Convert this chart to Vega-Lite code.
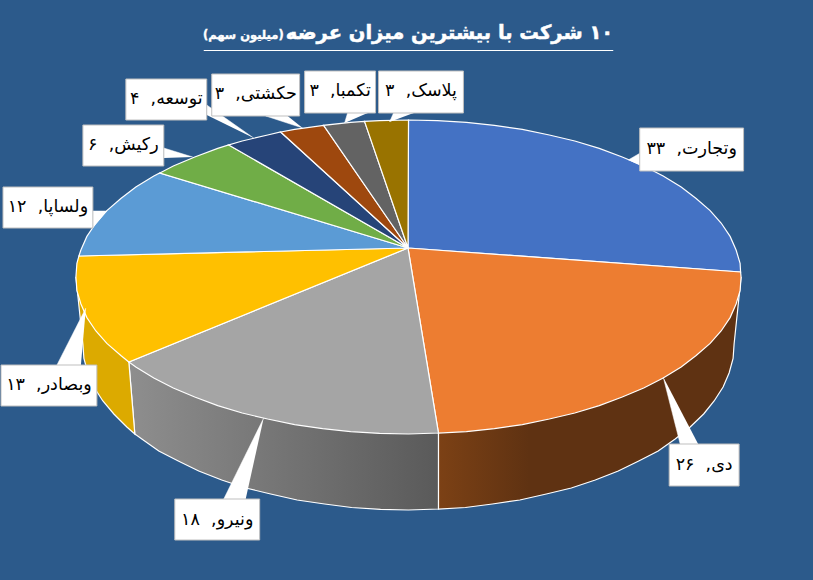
{
"$schema":"https://vega.github.io/schema/vega-lite/v6.json",
"width":813,"height":580,"padding":0,
"autosize":{"type":"fit","contains":"padding"},
"background":"#2c5a8b",
"view":{"stroke":null},
"datasets":{
"wallOrange":[{"i":1,"x":741,"y":277},{"i":2,"x":734,"y":344},{"i":3,"x":733,"y":358.5},{"i":4,"x":729,"y":373},{"i":5,"x":723,"y":387},{"i":6,"x":714,"y":401},{"i":7,"x":703.5,"y":414},{"i":8,"x":690,"y":427},{"i":9,"x":675,"y":439},{"i":10,"x":658,"y":451},{"i":11,"x":638.5,"y":461},{"i":12,"x":618,"y":471},{"i":13,"x":595,"y":480},{"i":14,"x":571,"y":488},{"i":15,"x":546,"y":494},{"i":16,"x":519.5,"y":500},{"i":17,"x":492,"y":504},{"i":18,"x":465,"y":507.5},{"i":19,"x":438,"y":509},{"i":20,"x":438,"y":433},{"i":21,"x":741,"y":277}],
"wallGray":[{"i":1,"x":438,"y":433},{"i":2,"x":438,"y":509},{"i":3,"x":408,"y":510},{"i":4,"x":380,"y":509.4},{"i":5,"x":351,"y":507.5},{"i":6,"x":324,"y":504},{"i":7,"x":296.5,"y":500},{"i":8,"x":270,"y":494},{"i":9,"x":245,"y":488},{"i":10,"x":221,"y":480},{"i":11,"x":198,"y":471},{"i":12,"x":177.5,"y":461},{"i":13,"x":158,"y":451},{"i":14,"x":141,"y":439},{"i":15,"x":134,"y":434},{"i":16,"x":128,"y":362},{"i":17,"x":438,"y":433}],
"wallYellow":[{"i":1,"x":128,"y":362},{"i":2,"x":134,"y":434},{"i":3,"x":126,"y":427},{"i":4,"x":113,"y":414},{"i":5,"x":102,"y":401},{"i":6,"x":93,"y":387},{"i":7,"x":87,"y":373},{"i":8,"x":83,"y":358.5},{"i":9,"x":82,"y":344},{"i":10,"x":75,"y":277},{"i":11,"x":128,"y":362}],
"surface":[
{"company":"وتجارت","i":0,"x":407.5,"y":248},{"company":"وتجارت","i":1,"x":408,"y":120},{"company":"وتجارت","i":2,"x":437,"y":120.6},{"company":"وتجارت","i":3,"x":466,"y":122.4},{"company":"وتجارت","i":4,"x":494,"y":125.3},{"company":"وتجارت","i":5,"x":522,"y":129.4},{"company":"وتجارت","i":6,"x":549,"y":135},{"company":"وتجارت","i":7,"x":574.5,"y":141},{"company":"وتجارت","i":8,"x":599,"y":148.4},{"company":"وتجارت","i":9,"x":622,"y":157},{"company":"وتجارت","i":10,"x":643.5,"y":166},{"company":"وتجارت","i":11,"x":663,"y":176},{"company":"وتجارت","i":12,"x":681,"y":187},{"company":"وتجارت","i":13,"x":696,"y":198.5},{"company":"وتجارت","i":14,"x":710,"y":210.6},{"company":"وتجارت","i":15,"x":721,"y":223},{"company":"وتجارت","i":16,"x":730,"y":236.4},{"company":"وتجارت","i":17,"x":736,"y":250},{"company":"وتجارت","i":18,"x":740,"y":263.3},{"company":"وتجارت","i":19,"x":740.5,"y":272},{"company":"وتجارت","i":20,"x":407.5,"y":248},
{"company":"دی","i":0,"x":407.5,"y":248},{"company":"دی","i":1,"x":740.5,"y":272},{"company":"دی","i":2,"x":741,"y":277},{"company":"دی","i":3,"x":740,"y":290.7},{"company":"دی","i":4,"x":736,"y":304},{"company":"دی","i":5,"x":730,"y":317.6},{"company":"دی","i":6,"x":721,"y":331},{"company":"دی","i":7,"x":710,"y":343.4},{"company":"دی","i":8,"x":696,"y":355.5},{"company":"دی","i":9,"x":681,"y":367},{"company":"دی","i":10,"x":663,"y":378},{"company":"دی","i":11,"x":643.5,"y":388},{"company":"دی","i":12,"x":622,"y":397},{"company":"دی","i":13,"x":599,"y":405.6},{"company":"دی","i":14,"x":574.5,"y":413},{"company":"دی","i":15,"x":549,"y":419},{"company":"دی","i":16,"x":522,"y":424.6},{"company":"دی","i":17,"x":494,"y":428.7},{"company":"دی","i":18,"x":466,"y":431.6},{"company":"دی","i":19,"x":438,"y":433},{"company":"دی","i":20,"x":407.5,"y":248},
{"company":"ونیرو","i":0,"x":407.5,"y":248},{"company":"ونیرو","i":1,"x":438,"y":433},{"company":"ونیرو","i":2,"x":408,"y":434},{"company":"ونیرو","i":3,"x":379,"y":433.4},{"company":"ونیرو","i":4,"x":350,"y":431.6},{"company":"ونیرو","i":5,"x":322,"y":428.7},{"company":"ونیرو","i":6,"x":294,"y":424.6},{"company":"ونیرو","i":7,"x":267,"y":419},{"company":"ونیرو","i":8,"x":241.5,"y":413},{"company":"ونیرو","i":9,"x":217,"y":405.6},{"company":"ونیرو","i":10,"x":194,"y":397},{"company":"ونیرو","i":11,"x":172.5,"y":388},{"company":"ونیرو","i":12,"x":153,"y":378},{"company":"ونیرو","i":13,"x":135,"y":367},{"company":"ونیرو","i":14,"x":128,"y":362},{"company":"ونیرو","i":15,"x":407.5,"y":248},
{"company":"وبصادر","i":0,"x":407.5,"y":248},{"company":"وبصادر","i":1,"x":128,"y":362},{"company":"وبصادر","i":2,"x":120,"y":355.5},{"company":"وبصادر","i":3,"x":106,"y":343.4},{"company":"وبصادر","i":4,"x":95,"y":331},{"company":"وبصادر","i":5,"x":86,"y":317.6},{"company":"وبصادر","i":6,"x":80,"y":304},{"company":"وبصادر","i":7,"x":76,"y":290.7},{"company":"وبصادر","i":8,"x":75,"y":277},{"company":"وبصادر","i":9,"x":76,"y":263.3},{"company":"وبصادر","i":10,"x":78,"y":256},{"company":"وبصادر","i":11,"x":407.5,"y":248},
{"company":"ولساپا","i":0,"x":407.5,"y":248},{"company":"ولساپا","i":1,"x":78,"y":256},{"company":"ولساپا","i":2,"x":80,"y":250},{"company":"ولساپا","i":3,"x":86,"y":236.4},{"company":"ولساپا","i":4,"x":95,"y":223},{"company":"ولساپا","i":5,"x":106,"y":210.6},{"company":"ولساپا","i":6,"x":120,"y":198.5},{"company":"ولساپا","i":7,"x":135,"y":187},{"company":"ولساپا","i":8,"x":153,"y":176},{"company":"ولساپا","i":9,"x":159,"y":173},{"company":"ولساپا","i":10,"x":407.5,"y":248},
{"company":"رکیش","i":0,"x":407.5,"y":248},{"company":"رکیش","i":1,"x":159,"y":173},{"company":"رکیش","i":2,"x":172.5,"y":166},{"company":"رکیش","i":3,"x":194,"y":157},{"company":"رکیش","i":4,"x":217,"y":148.4},{"company":"رکیش","i":5,"x":228,"y":145},{"company":"رکیش","i":6,"x":407.5,"y":248},
{"company":"توسعه","i":0,"x":407.5,"y":248},{"company":"توسعه","i":1,"x":228,"y":145},{"company":"توسعه","i":2,"x":241.5,"y":141},{"company":"توسعه","i":3,"x":267,"y":135},{"company":"توسعه","i":4,"x":280,"y":132},{"company":"توسعه","i":5,"x":407.5,"y":248},
{"company":"حکشتی","i":0,"x":407.5,"y":248},{"company":"حکشتی","i":1,"x":280,"y":132},{"company":"حکشتی","i":2,"x":294,"y":129.4},{"company":"حکشتی","i":3,"x":323,"y":125.3},{"company":"حکشتی","i":4,"x":407.5,"y":248},
{"company":"تکمبا","i":0,"x":407.5,"y":248},{"company":"تکمبا","i":1,"x":323,"y":125.3},{"company":"تکمبا","i":2,"x":350,"y":122.4},{"company":"تکمبا","i":3,"x":364,"y":121.4},{"company":"تکمبا","i":4,"x":407.5,"y":248},
{"company":"پلاسک","i":0,"x":407.5,"y":248},{"company":"پلاسک","i":1,"x":364,"y":121.4},{"company":"پلاسک","i":2,"x":379,"y":120.6},{"company":"پلاسک","i":3,"x":408,"y":120},{"company":"پلاسک","i":4,"x":407.5,"y":248}
],
"wedges":[
{"company":"وتجارت","i":1,"x":628,"y":160},{"company":"وتجارت","i":2,"x":640,"y":153},{"company":"وتجارت","i":3,"x":652,"y":171},
{"company":"دی","i":1,"x":663,"y":377},{"company":"دی","i":2,"x":680,"y":444},{"company":"دی","i":3,"x":698,"y":444},
{"company":"ونیرو","i":1,"x":263,"y":418},{"company":"ونیرو","i":2,"x":223,"y":499},{"company":"ونیرو","i":3,"x":245,"y":499},
{"company":"وبصادر","i":1,"x":85,"y":308},{"company":"وبصادر","i":2,"x":56,"y":365},{"company":"وبصادر","i":3,"x":80,"y":365},
{"company":"ولساپا","i":1,"x":106,"y":211},{"company":"ولساپا","i":2,"x":92,"y":211},{"company":"ولساپا","i":3,"x":92,"y":228},
{"company":"رکیش","i":1,"x":192,"y":157},{"company":"رکیش","i":2,"x":163,"y":148},{"company":"رکیش","i":3,"x":163,"y":158},
{"company":"توسعه","i":1,"x":253,"y":138},{"company":"توسعه","i":2,"x":206,"y":105},{"company":"توسعه","i":3,"x":206,"y":115},
{"company":"حکشتی","i":1,"x":302,"y":128},{"company":"حکشتی","i":2,"x":265,"y":116},{"company":"حکشتی","i":3,"x":287,"y":116},
{"company":"تکمبا","i":1,"x":344,"y":123},{"company":"تکمبا","i":2,"x":347,"y":113},{"company":"تکمبا","i":3,"x":367,"y":113},
{"company":"پلاسک","i":1,"x":389,"y":122},{"company":"پلاسک","i":2,"x":393,"y":113},{"company":"پلاسک","i":3,"x":413,"y":113}
],
"labels":[
{"company":"وتجارت","value":33,"label":"وتجارت,\u00a0\u00a0۳۳","x0":639.5,"x1":743.5,"y0":128,"y1":171,"xc":691.5,"yc":149},
{"company":"دی","value":26,"label":"دی,\u00a0\u00a0۲۶","x0":669,"x1":739,"y0":444,"y1":486,"xc":704,"yc":465},
{"company":"ونیرو","value":18,"label":"ونیرو,\u00a0\u00a0۱۸","x0":174,"x1":259,"y0":499,"y1":540,"xc":216.5,"yc":520},
{"company":"وبصادر","value":13,"label":"وبصادر,\u00a0\u00a0۱۳","x0":0,"x1":96,"y0":365,"y1":406,"xc":48,"yc":385},
{"company":"ولساپا","value":12,"label":"ولساپا,\u00a0\u00a0۱۲","x0":2,"x1":92,"y0":187,"y1":228,"xc":47,"yc":207},
{"company":"رکیش","value":6,"label":"رکیش,\u00a0\u00a0۶","x0":82,"x1":163,"y0":125,"y1":166,"xc":122.5,"yc":145},
{"company":"توسعه","value":4,"label":"توسعه,\u00a0\u00a0۴","x0":125,"x1":206,"y0":79,"y1":120,"xc":165.5,"yc":99},
{"company":"حکشتی","value":3,"label":"حکشتی,\u00a0\u00a0۳","x0":211,"x1":299,"y0":74,"y1":116,"xc":255,"yc":94},
{"company":"تکمبا","value":3,"label":"تکمبا,\u00a0\u00a0۳","x0":304,"x1":375,"y0":71,"y1":113,"xc":339.5,"yc":91},
{"company":"پلاسک","value":3,"label":"پلاسک,\u00a0\u00a0۳","x0":378,"x1":463,"y0":71,"y1":113,"xc":420.5,"yc":91}
],
"titleMain":[{"t":"\u200f۱۰ شرکت با بیشترین میزان عرضه","x":613,"y":33}],
"titleSub":[{"t":"(میلیون سهم)","x":283,"y":36}],
"underline":[{"x0":203,"x1":613,"y":50.5}]
},
"encoding":{
"x":{"field":"x","type":"quantitative","scale":{"domain":[0,813],"nice":false,"zero":false},"axis":null},
"y":{"field":"y","type":"quantitative","scale":{"domain":[580,0],"nice":false,"zero":false},"axis":null}
},
"layer":[
{"data":{"name":"wallOrange"},"mark":{"type":"line","filled":true,"stroke":"#ffffff","strokeWidth":1.2,"fill":{"gradient":"linear","x1":0,"x2":1,"y1":0,"y2":0,"stops":[{"offset":0,"color":"#7c4115"},{"offset":0.3,"color":"#5f3212"},{"offset":1,"color":"#5f3212"}]}},"encoding":{"order":{"field":"i","type":"quantitative"}}},
{"data":{"name":"wallGray"},"mark":{"type":"line","filled":true,"stroke":"#ffffff","strokeWidth":1.2,"fill":{"gradient":"linear","x1":0,"x2":1,"y1":0,"y2":0,"stops":[{"offset":0,"color":"#8e8e8e"},{"offset":1,"color":"#5a5a5a"}]}},"encoding":{"order":{"field":"i","type":"quantitative"}}},
{"data":{"name":"wallYellow"},"mark":{"type":"line","filled":true,"stroke":"#ffffff","strokeWidth":1.2,"fill":"#dcaa00"},"encoding":{"order":{"field":"i","type":"quantitative"}}},
{"data":{"name":"surface"},"mark":{"type":"line","filled":true,"stroke":"#ffffff","strokeWidth":1.2},"encoding":{"order":{"field":"i","type":"quantitative"},"color":{"field":"company","type":"nominal","legend":null,"scale":{"domain":["وتجارت","دی","ونیرو","وبصادر","ولساپا","رکیش","توسعه","حکشتی","تکمبا","پلاسک"],"range":["#4472c4","#ed7d31","#a5a5a5","#ffc000","#5b9bd5","#70ad47","#264478","#9e480e","#636363","#997300"]}}}},
{"data":{"name":"wedges"},"mark":{"type":"line","filled":true,"fill":"#ffffff","stroke":"#ffffff","strokeWidth":0.5},"encoding":{"order":{"field":"i","type":"quantitative"},"detail":{"field":"company","type":"nominal"}}},
{"data":{"name":"labels"},"mark":{"type":"rect","fill":"#ffffff","stroke":"#bfbfbf","strokeWidth":1},"encoding":{"x":{"field":"x0","type":"quantitative"},"x2":{"field":"x1"},"y":{"field":"y0","type":"quantitative"},"y2":{"field":"y1"}}},
{"data":{"name":"labels"},"mark":{"type":"text","font":"DejaVu Sans","fontSize":17.5,"color":"#000000","align":"center","baseline":"middle"},"encoding":{"x":{"field":"xc","type":"quantitative"},"y":{"field":"yc","type":"quantitative"},"text":{"field":"label","type":"nominal"}}},
{"data":{"name":"titleMain"},"mark":{"type":"text","font":"DejaVu Sans","fontWeight":"bold","fontSize":19.5,"color":"#ffffff","stroke":"#ffffff","strokeWidth":0.5,"align":"right","baseline":"middle"},"encoding":{"text":{"field":"t","type":"nominal"}}},
{"data":{"name":"titleSub"},"mark":{"type":"text","font":"DejaVu Sans","fontWeight":"bold","fontSize":11.5,"color":"#ffffff","stroke":"#ffffff","strokeWidth":0.4,"align":"right","baseline":"middle"},"encoding":{"text":{"field":"t","type":"nominal"}}},
{"data":{"name":"underline"},"mark":{"type":"rule","stroke":"#ffffff","strokeWidth":1.2},"encoding":{"x":{"field":"x0","type":"quantitative"},"x2":{"field":"x1"},"y":{"field":"y","type":"quantitative"}}}
]
}
